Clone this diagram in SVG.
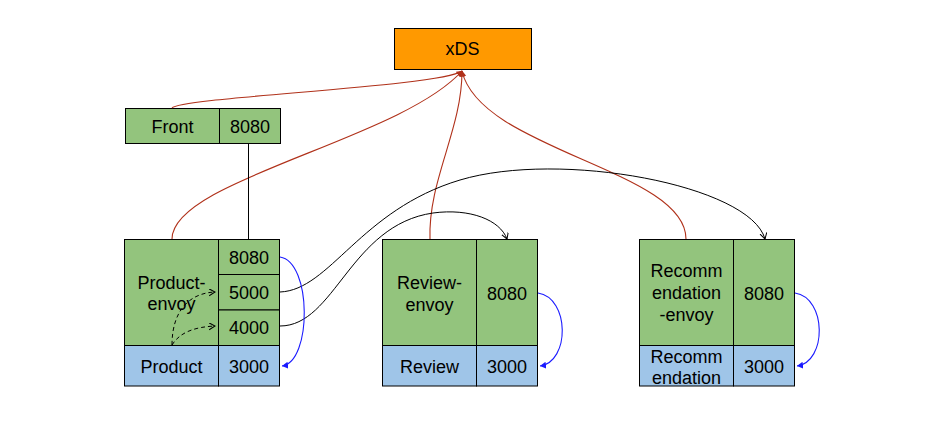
<svg xmlns="http://www.w3.org/2000/svg" width="926" height="439" viewBox="0 0 926 439">
<style>
  text { font-family: "Liberation Sans", Arial, sans-serif; font-size: 18px; fill: #000; text-anchor: middle; }
  .g { fill: #93c47d; stroke: #000; stroke-width: 1; }
  .b { fill: #9fc5e8; stroke: #000; stroke-width: 1; }
  .o { fill: #ff9900; stroke: #000; stroke-width: 1; }
  .red { fill: none; stroke: #b0311a; stroke-width: 1.1; marker-end: url(#ra); }
  .blk { fill: none; stroke: #000; stroke-width: 1; }
  .arr { marker-end: url(#ka); }
  .dash { stroke-dasharray: 4 3; }
  .blue { fill: none; stroke: #1a1aff; stroke-width: 1.1; marker-end: url(#ba); }
</style>
<defs>
  <marker id="ra" markerUnits="userSpaceOnUse" markerWidth="10" markerHeight="10" refX="5.5" refY="3" orient="auto">
    <path d="M0,0 L6,3 L0,6 Z" fill="#b0311a"/>
  </marker>
  <marker id="ka" markerUnits="userSpaceOnUse" markerWidth="10" markerHeight="10" refX="6" refY="3.5" orient="auto">
    <path d="M0,0 L6,3.5 L0,7" fill="none" stroke="#000" stroke-width="1"/>
  </marker>
  <marker id="ba" markerUnits="userSpaceOnUse" markerWidth="10" markerHeight="10" refX="6" refY="3.5" orient="auto">
    <path d="M0,0 L6,3.5 L0,7 Z" fill="#1a1aff"/>
  </marker>
</defs>
<rect width="926" height="439" fill="#fff"/>

<g id="xds">
  <rect class="o" x="394.5" y="28.5" width="137" height="41"/>
  <text x="462.5" y="55">xDS</text>
</g>

<g id="front">
  <rect class="g" x="125.5" y="108.5" width="94" height="35"/>
  <rect class="g" x="219.5" y="108.5" width="61" height="35"/>
  <text x="172.5" y="132.5">Front</text>
  <text x="250" y="132.5">8080</text>
</g>

<g id="product">
  <rect class="g" x="124.5" y="239.5" width="94" height="106"/>
  <rect class="g" x="218.5" y="239.5" width="61" height="35"/>
  <rect class="g" x="218.5" y="274.5" width="61" height="35.5"/>
  <rect class="g" x="218.5" y="310" width="61" height="35.5"/>
  <rect class="b" x="124.5" y="345.5" width="94" height="40.5"/>
  <rect class="b" x="218.5" y="345.5" width="61" height="40.5"/>
  <text x="171.5" y="288.5">Product-</text>
  <text x="171.5" y="309.5">envoy</text>
  <text x="249" y="263.5">8080</text>
  <text x="249" y="298.5">5000</text>
  <text x="249" y="334">4000</text>
  <text x="171.5" y="372.5">Product</text>
  <text x="249" y="372.5">3000</text>
</g>

<g id="review">
  <rect class="g" x="382.5" y="239.5" width="94" height="106"/>
  <rect class="g" x="476.5" y="239.5" width="61" height="106"/>
  <rect class="b" x="382.5" y="345.5" width="94" height="40.5"/>
  <rect class="b" x="476.5" y="345.5" width="61" height="40.5"/>
  <text x="429.5" y="289">Review-</text>
  <text x="429.5" y="310.5">envoy</text>
  <text x="507" y="299.5">8080</text>
  <text x="429.5" y="372.5">Review</text>
  <text x="507" y="372.5">3000</text>
</g>

<g id="recommendation">
  <rect class="g" x="639.5" y="239.5" width="94" height="106"/>
  <rect class="g" x="733.5" y="239.5" width="61" height="106"/>
  <rect class="b" x="639.5" y="345.5" width="94" height="40.5"/>
  <rect class="b" x="733.5" y="345.5" width="61" height="40.5"/>
  <text x="686.5" y="277">Recomm</text>
  <text x="686.5" y="299">endation</text>
  <text x="686.5" y="321">-envoy</text>
  <text x="764" y="299.5">8080</text>
  <text x="686.5" y="362.5">Recomm</text>
  <text x="686.5" y="383.5">endation</text>
  <text x="764" y="372.5">3000</text>
</g>

<g id="connectors">
  <path class="red" d="M172,108 C180,97 440,87 462,71"/>
  <path class="red" d="M172,239 C172,180 400,140 462,71"/>
  <path class="red" d="M430,239 C428,180 462,130 462,71"/>
  <path class="red" d="M686,239 C686,170 480,150 462,71"/>
  <path class="blk" d="M248.5,143.5 L248.5,239.5"/>
  <path class="blk arr" d="M280,292 C330,290 360,210 460,180 C560,150 750,185 765,239"/>
  <path class="blk arr" d="M280,326 C335,326 350,225 433,213 C470,208 500,220 507,239"/>
  <path class="blk arr dash" d="M172,345 C172,310 190,293 215,292"/>
  <path class="blk arr dash" d="M172,345 C180,332 195,327 215,326"/>
  <path class="blue" d="M280,257 C312,262 312,362 282,366"/>
  <path class="blue" d="M538,293 C570,298 570,362 540,366"/>
  <path class="blue" d="M795,293 C827,298 827,362 797,366"/>
</g>
</svg>
